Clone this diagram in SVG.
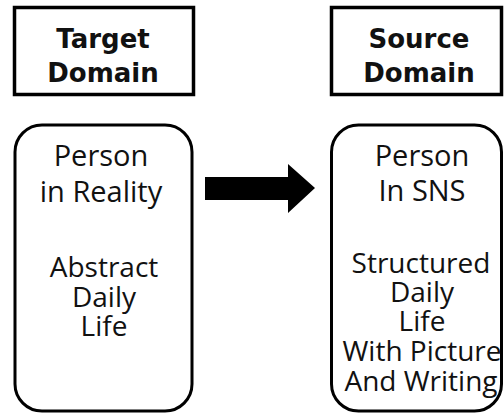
<svg xmlns="http://www.w3.org/2000/svg" width="504" height="414" viewBox="0 0 504 414">
<defs>
<style>
.hdr{fill:#fff;stroke:#000;stroke-width:3.5}
.box{fill:#fff;stroke:#000;stroke-width:3}
.ht{font-family:"DejaVu Sans",sans-serif;font-weight:bold;font-size:26px;fill:#111;text-anchor:middle}
.bt{font-family:"Open Sans","Noto Sans",sans-serif;font-size:28px;fill:#111;text-anchor:middle}
.big{font-size:29px}
</style>
</defs>
<rect width="504" height="414" fill="#fff"/>
<g id="target-domain">
<rect class="hdr" x="14.5" y="7.5" width="179" height="87"/>
<text class="ht" x="103" y="48">Target</text>
<text class="ht" x="103" y="82">Domain</text>
</g>
<g id="source-domain">
<rect class="hdr" x="331.5" y="7.5" width="170" height="87"/>
<text class="ht" x="419" y="48">Source</text>
<text class="ht" x="419" y="82">Domain</text>
</g>
<g id="person-reality">
<rect class="box" x="15" y="125" width="177" height="286" rx="27" ry="27"/>
<text class="bt big" x="101" y="166">Person</text>
<text class="bt big" x="101" y="202">in Reality</text>
<text class="bt" x="104" y="277">Abstract</text>
<text class="bt" x="104" y="307">Daily</text>
<text class="bt" x="104" y="336">Life</text>
</g>
<g id="person-sns">
<rect class="box" x="331.5" y="125" width="170" height="286" rx="27" ry="27"/>
<text class="bt big" x="422" y="166">Person</text>
<text class="bt big" x="422" y="201">In SNS</text>
<text class="bt" x="421" y="273">Structured</text>
<text class="bt" x="422" y="302">Daily</text>
<text class="bt" x="422" y="331">Life</text>
<text class="bt" x="422" y="361">With Picture</text>
<text class="bt" x="421" y="391">And Writing</text>
</g>
<g id="connectors">
<polygon points="205,177 288,177 288,164 315,188 288,213 288,200 205,200" fill="#000"/>
</g>
</svg>
